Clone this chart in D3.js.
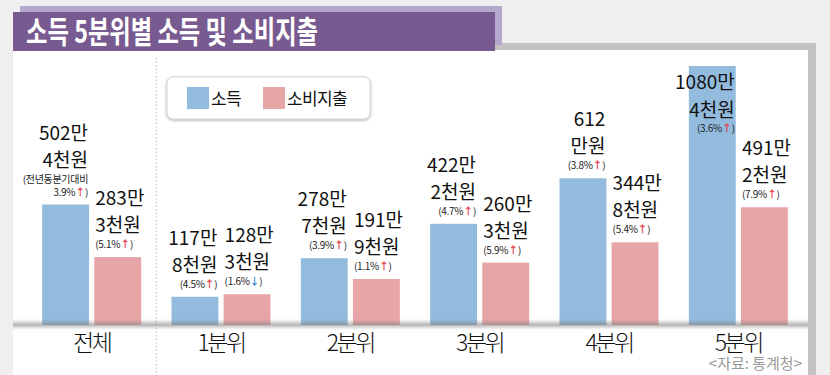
<!DOCTYPE html>
<html>
<head>
<meta charset="utf-8">
<script src="https://cdn.jsdelivr.net/npm/d3@7"></script>
<style>
  body { margin: 0; background: #efefef; }
  svg { display: block; font-family: "Noto Sans CJK KR", "Noto Sans", sans-serif; }
</style>
</head>
<body>
<div id="chart"></div>
<script>
// data
const categories = ['전체', '1분위', '2분위', '3분위', '4분위', '5분위'];
const income = [502.4, 117.8, 278.7, 422.2, 612, 1080.4];     // 만원
const spending = [283.3, 128.3, 191.9, 260.3, 344.8, 491.2];  // 만원
const incomeLabels = [['502만', '4천원'], ['117만', '8천원'], ['278만', '7천원'], ['422만', '2천원'], ['612', '만원'], ['1080만', '4천원']];
const spendingLabels = [['283만', '3천원'], ['128만', '3천원'], ['191만', '9천원'], ['260만', '3천원'], ['344만', '8천원'], ['491만', '2천원']];
const incomeNotes = [['(전년동분기대비', '3.9%↑)'], ['(4.5%↑)'], ['(3.9%↑)'], ['(4.7%↑)'], ['(3.8%↑)'], ['(3.6%↑)']];
const spendingNotes = [['(5.1%↑)'], ['(1.6%↓)'], ['(1.1%↑)'], ['(5.9%↑)'], ['(5.4%↑)'], ['(7.9%↑)']];
const series = ['income', 'spending'];
const legendNames = ['소득', '소비지출'];

const colors = {income: '#93bbdd', spending: '#e8a5a8'};

const width = 830, height = 375;
const svg = d3.select('#chart').append('svg')
  .attr('width', width)
  .attr('height', height);

const defs = svg.append('defs');
const grad = defs.append('linearGradient').attr('id', 'baseShade')
  .attr('x1', 0).attr('y1', 0).attr('x2', 0).attr('y2', 1);
grad.append('stop').attr('offset', '0%').attr('stop-color', '#888').attr('stop-opacity', 0);
grad.append('stop').attr('offset', '55%').attr('stop-color', '#777').attr('stop-opacity', 0.55);
grad.append('stop').attr('offset', '100%').attr('stop-color', '#aaa').attr('stop-opacity', 0);

const shadow = defs.append('filter').attr('id', 'legendShadow')
  .attr('x', '-10%').attr('y', '-20%').attr('width', '120%').attr('height', '150%');
shadow.append('feDropShadow').attr('dx', 0).attr('dy', 1).attr('stdDeviation', 1.5)
  .attr('flood-color', '#000').attr('flood-opacity', 0.35);

//panel + title
svg.append('rect').attr('x', 21).attr('y', 43).attr('width', 795).attr('height', 340).attr('fill', '#c2c2c2');
svg.append('rect').attr('x', 13).attr('y', 50).attr('width', 795).attr('height', 330).attr('fill', '#fff');
svg.append('rect').attr('x', 20).attr('y', 6).attr('width', 482).attr('height', 39).attr('fill', '#b4a8cd');
svg.append('rect').attr('x', 13).attr('y', 12).attr('width', 482).attr('height', 39).attr('fill', '#775a8f');
svg.append('text')
  .attr('x', 26).attr('y', 43)
  .attr('fill', '#fff')
  .attr('font-size', 31)
  .attr('font-weight', 700)
  .attr('textLength', 292)
  .attr('lengthAdjust', 'spacingAndGlyphs')
  .text('소득 5분위별 소득 및 소비지출');

//scales
const x0 = d3.scaleBand().domain(categories).range([27, 803]);
const x1 = d3.scaleBand().domain(series).range([-49.5, 49.5]).paddingInner(0.1);
const y = d3.scaleLinear().domain([0, d3.max(income)]).range([325, 66]);

const rows = categories.map((c, i) => ({
  cat: c,
  values: [
    {key: 'income', value: income[i], big: incomeLabels[i], notes: incomeNotes[i]},
    {key: 'spending', value: spending[i], big: spendingLabels[i], notes: spendingNotes[i]}
  ]
}));

//separator
svg.append('line')
  .attr('x1', x0(categories[1])).attr('x2', x0(categories[1]))
  .attr('y1', 58).attr('y2', height)
  .attr('stroke', '#bbb').attr('stroke-width', 1.2)
  .attr('stroke-dasharray', '1.2 2.4');

const groups = svg.selectAll('.group')
  .data(rows)
  .enter()
  .append('g')
  .attr('class', 'group')
  .attr('transform', d => `translate(${x0(d.cat) + x0.bandwidth() / 2},0)`);

groups.selectAll('rect')
  .data(d => d.values)
  .enter()
  .append('rect')
  .attr('x', d => x1(d.key))
  .attr('width', x1.bandwidth())
  .attr('y', d => y(d.value))
  .attr('height', d => y(0) - y(d.value))
  .attr('fill', d => colors[d.key]);

//baseline shadow
svg.append('rect')
  .attr('x', 13).attr('width', 795)
  .attr('y', y(0) - 6).attr('height', 11)
  .attr('fill', 'url(#baseShade)');

//value labels
groups.each(function(row) {
  const g = d3.select(this);
  row.values.forEach(d => {
    const isIncome = d.key === 'income';
    const anchor = isIncome ? 'end' : 'start';
    const tx = isIncome ? x1(d.key) + x1.bandwidth() - 1 : x1(d.key) + 1;
    const top = y(d.value);
    const nNotes = d.notes.length;
    // baselines stacked upward from the bar top
    let noteBase = top - 9;
    let bigBase = noteBase - 13 * (nNotes - 1) - 16;
    let firstBig = bigBase - 27;
    if (firstBig - 16 < 55) {
      // no room above: put the label inside the top of the bar
      firstBig = top + 23;
      bigBase = firstBig + 28;
      noteBase = bigBase + 15 + 13 * (nNotes - 1);
    }
    d.big.forEach((t, i) => {
      g.append('text')
        .attr('x', tx)
        .attr('y', i === 0 ? firstBig : bigBase)
        .attr('text-anchor', anchor)
        .attr('font-size', 19)
        .attr('font-weight', 400)
        .attr('fill', '#111')
        .text(t);
    });
    d.notes.forEach((t, i) => {
      const txt = g.append('text')
        .attr('x', tx)
        .attr('y', noteBase - 13 * (nNotes - 1 - i))
        .attr('text-anchor', anchor)
        .attr('font-size', 10)
        .attr('letter-spacing', -0.3)
        .attr('fill', '#222');
      t.split(/([↑↓])/).filter(s => s.length).forEach(s => {
        txt.append('tspan')
          .attr('fill', s === '↑' ? '#e2434f' : s === '↓' ? '#3b8ed6' : '#222')
          .attr('font-weight', s === '↑' || s === '↓' ? 700 : 400)
          .text(s);
      });
    });
  });
});

//category axis
const axisX = d3.axisBottom(x0).tickSize(0).tickPadding(0);
const axisXNode = svg.append('g')
  .attr('class', 'axis-x')
  .attr('transform', `translate(0,${y(0)})`)
  .call(axisX);
axisXNode.select('.domain').remove();
axisXNode.selectAll('text')
  .attr('dy', null)
  .attr('y', 26)
  .attr('font-family', '"Noto Sans CJK KR", sans-serif')
  .attr('font-size', 23)
  .attr('font-weight', 300)
  .attr('letter-spacing', -2.5)
  .attr('fill', '#111');

//legend
const legend = svg.append('g').attr('transform', 'translate(167,77)');
legend.append('rect')
  .attr('width', 203).attr('height', 42).attr('rx', 6)
  .attr('fill', '#fff').attr('stroke', '#ccc').attr('stroke-width', 0.8)
  .attr('filter', 'url(#legendShadow)');
const legendItem = legend.selectAll('.item')
  .data(series)
  .enter()
  .append('g')
  .attr('class', 'item')
  .attr('transform', (d, i) => `translate(${20 + i * 76},10)`);
legendItem.append('rect')
  .attr('width', 22).attr('height', 22)
  .attr('fill', d => colors[d]);
legendItem.append('text')
  .attr('x', 24).attr('y', 18)
  .attr('font-size', 17)
  .attr('letter-spacing', -0.6)
  .attr('fill', '#111')
  .text((d, i) => legendNames[i]);

//source
svg.append('text')
  .attr('x', 802).attr('y', 369)
  .attr('text-anchor', 'end')
  .attr('font-size', 15)
  .attr('fill', '#999')
  .text('<자료: 통계청>');
</script>
</body>
</html>
